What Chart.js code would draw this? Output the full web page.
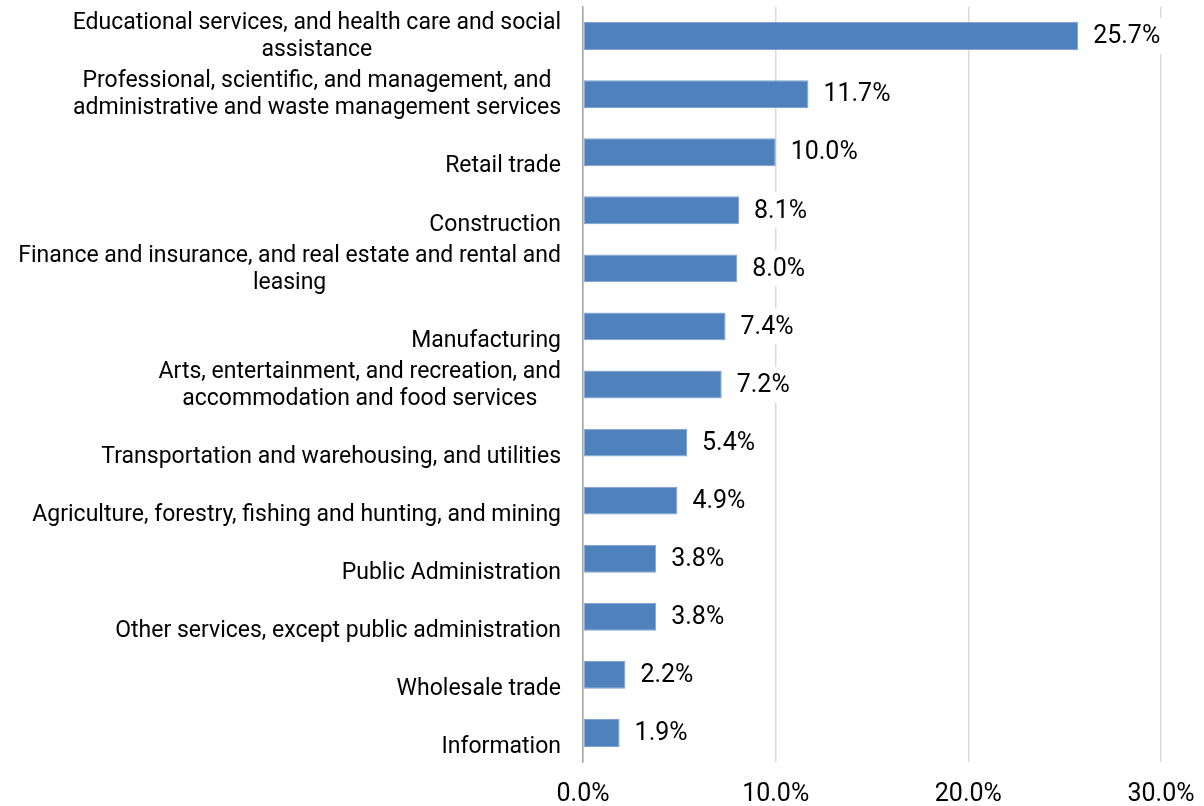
<!DOCTYPE html>
<html>
<head>
<meta charset="utf-8">
<script src="https://cdn.jsdelivr.net/npm/chart.js@4/dist/chart.umd.min.js"></script>
<style>
  html, body { margin: 0; padding: 0; background: #fff; }
  #wrap { width: 1204px; height: 806px; position: relative; }
</style>
</head>
<body>
<div id="wrap"><canvas id="industryChart"></canvas></div>
<script>
// industries, top to bottom
const industries = [
    ['Educational services, and health care and social', 'assistance'],
    ['Professional, scientific, and management, and', 'administrative and waste management services'],
    'Retail trade',
    'Construction',
    ['Finance and insurance, and real estate and rental and', 'leasing'],
    'Manufacturing',
    ['Arts, entertainment, and recreation, and', 'accommodation and food services'],
    'Transportation and warehousing, and utilities',
    'Agriculture, forestry, fishing and hunting, and mining',
    'Public Administration',
    'Other services, except public administration',
    'Wholesale trade',
    'Information'
];
const shares = [25.7, 11.7, 10.0, 8.1, 8.0, 7.4, 7.2, 5.4, 4.9, 3.8, 3.8, 2.2, 1.9];
const axisTicks = [0, 10, 20, 30];

const FONT = 'Roboto';
const LABEL_SIZE = 23;
const NUM_SIZE = 25;

// draws the category names like Excel does: lines centred on each other,
// block right aligned, single lines sitting on the lower line slot
const categoryLabels = {
    id: 'categoryLabels',
    afterDraw(chart) {
        const ctx = chart.ctx;
        const yScale = chart.scales.y;
        const lh = 27;
        ctx.save();
        ctx.font = LABEL_SIZE + 'px "' + FONT + '"';
        ctx.fillStyle = '#000';
        ctx.textAlign = 'center';
        ctx.textBaseline = 'middle';
        industries.forEach((label, i) => {
            const lines = Array.isArray(label) ? label : ['', label];
            const w = Math.max(...lines.map(l => ctx.measureText(l).width));
            const cx = yScale.right - 22 - w / 2;
            const y = yScale.getPixelForTick(i);
            const top = y - lines.length * lh / 2 + lh / 2;
            lines.forEach((l, j) => ctx.fillText(l, cx, top + j * lh + 1));
        });
        ctx.restore();
    }
};

// value labels to the right of each bar, on a white box like Excel's
const valueLabels = {
    id: 'valueLabels',
    afterDatasetsDraw(chart) {
        const ctx = chart.ctx;
        const meta = chart.getDatasetMeta(0);
        ctx.save();
        ctx.font = NUM_SIZE + 'px "' + FONT + '"';
        ctx.textAlign = 'left';
        ctx.textBaseline = 'middle';
        meta.data.forEach((bar, i) => {
            const txt = shares[i].toFixed(1) + '%';
            const w = ctx.measureText(txt).width;
            ctx.fillStyle = '#fff';
            ctx.fillRect(bar.x + 9, bar.y - 18, w + 12, 36);
            ctx.fillStyle = '#000';
            ctx.fillText(txt, bar.x + 15, bar.y + 1);
        });
        ctx.restore();
    }
};

const ctx = document.getElementById('industryChart').getContext('2d');
new Chart(ctx, {
    type: 'bar',
    data: {
        labels: industries,
        datasets: [{
            data: shares,
            backgroundColor: '#4F81BD',
            borderColor: '#7FA3D1',
            borderWidth: 1,
            borderSkipped: false,
            categoryPercentage: 1,
            barPercentage: 0.48
        }]
    },
    options: {
        indexAxis: 'y',
        responsive: true,
        maintainAspectRatio: false,
        animation: false,
        layout: { padding: { top: 7, right: 43, bottom: 0, left: 0 } },
        scales: {
            x: {
                min: 0,
                max: 30,
                afterBuildTicks(scale) {
                    scale.ticks = axisTicks.map(v => ({ value: v }));
                },
                afterFit(scale) {
                    scale.height = 44;
                    scale.paddingLeft = 0;
                    scale.paddingRight = 0;
                },
                grid: { color: '#D9D9D9', lineWidth: 1.5, drawTicks: false },
                border: { display: false },
                ticks: {
                    padding: 18,
                    color: '#000',
                    maxRotation: 0,
                    font: { family: FONT, size: NUM_SIZE },
                    callback: v => v.toFixed(1) + '%'
                }
            },
            y: {
                afterFit(scale) { scale.width = 583; },
                grid: { display: false, drawTicks: false },
                border: { display: true, color: '#A6A6A6', width: 1.5 },
                ticks: { display: false }
            }
        },
        plugins: {
            legend: { display: false },
            tooltip: { enabled: false }
        }
    },
    plugins: [categoryLabels, valueLabels]
});
</script>
</body>
</html>
